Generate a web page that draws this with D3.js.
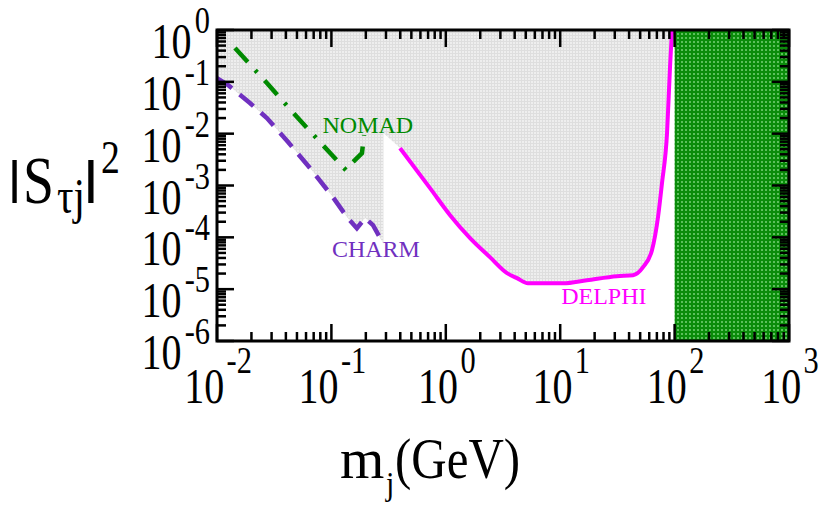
<!DOCTYPE html>
<html><head><meta charset="utf-8">
<script src="https://cdn.jsdelivr.net/npm/d3@7"></script>
<style>html,body{margin:0;padding:0;background:#fff}svg{display:block}</style>
</head><body>
<svg id="c" width="826" height="515"></svg>
<script>
// ---- data ----
const xTickExps = [-2, -1, 0, 1, 2, 3];
const yTickExps = [0, -1, -2, -3, -4, -5, -6];

const charmM = [0.01, 0.0125, 0.0194, 0.0273, 0.0418, 0.065, 0.103, 0.137, 0.167, 0.197, 0.231, 0.283];
const charmS = [0.118, 0.0867, 0.039, 0.020, 0.00689, 0.00217, 5.97e-4, 2.45e-4, 1.5e-4, 2.35e-4, 1.72e-4, 7.7e-5];

const nomadM = [0.01436, 0.0273, 0.051, 0.0993, 0.134, 0.151, 0.185, 0.193];
const nomadS = [0.45, 0.0948, 0.02, 4.04e-3, 1.98e-3, 2.7e-3, 4.22e-3, 9.4e-3];

const delphiM = [0.398, 0.728, 1.09, 1.63, 2.43, 3.43, 4.19, 5.23, 10.6, 17.1, 31.4, 43.3, 53, 63.4, 71.6, 77.6, 85.9, 91.2, 94.9];
const delphiS = [5.27e-3, 8.9e-4, 2.68e-4, 9.66e-5, 4.15e-5, 2.04e-5, 1.63e-5, 1.3e-5, 1.3e-5, 1.49e-5, 1.78e-5, 1.86e-5, 2.66e-5, 5.66e-5, 2.45e-4, 1.11e-3, 1.03e-2, 0.193, 1.0];

const grayGapM = [0.285, 0.285];        // vertical edge of the grey region
const grayGapS = [7.7e-5, 0.0103];

const greenBand = [100, 1000];

const labels = [
  {text: "NOMAD", m: 0.0836, s: 0.0103, color: "#008a00"},
  {text: "CHARM", m: 0.101, s: 4.15e-5, color: "#7030c0"},
  {text: "DELPHI", m: 10.2, s: 5.13e-6, color: "#ff00ff"}
];

// ---- chart ----
const svg = d3.select("#c");
const L = 217, R = 789, T = 30, B = 341;
const x = d3.scaleLog().domain([1e-2, 1e3]).range([L, R]);
const y = d3.scaleLog().domain([1e-6, 1]).range([B, T]);
const serif = "'Liberation Serif','Times New Roman',serif";
const sans = "'Liberation Sans',Arial,sans-serif";

const defs = svg.append("defs");
const pg = defs.append("pattern").attr("id", "pgray").attr("patternUnits", "userSpaceOnUse").attr("width", 3).attr("height", 3);
pg.append("rect").attr("width", 3).attr("height", 3).attr("fill", "#dedede");
pg.append("rect").attr("x", 0).attr("y", 0).attr("width", 2).attr("height", 2).attr("fill", "#eeeeee");
const pgr = defs.append("pattern").attr("id", "pgreen").attr("patternUnits", "userSpaceOnUse").attr("width", 4).attr("height", 4);
pgr.append("rect").attr("width", 4).attr("height", 4).attr("fill", "#0a8c0a");
pgr.append("rect").attr("x", 1).attr("y", 1).attr("width", 2).attr("height", 2).attr("fill", "#5cc05c");

// grey excluded region
const zip = (a, b) => a.map((v, i) => [v, b[i]]);
const grayPts = [[1e-2, 1]]
  .concat(zip(charmM, charmS))
  .concat(zip(grayGapM, grayGapS))
  .concat(zip(delphiM, delphiS))
  .concat([[delphiM[delphiM.length - 1], 1]]);
svg.append("path")
  .attr("d", d3.line().x(d => x(d[0])).y(d => y(d[1]))(grayPts) + "Z")
  .attr("fill", "url(#pgray)");

// green band
svg.append("rect")
  .attr("x", x(greenBand[0])).attr("y", T)
  .attr("width", x(greenBand[1]) - x(greenBand[0])).attr("height", B - T)
  .attr("fill", "url(#pgreen)");

// curves
const lin = d3.line().x(d => x(d[0])).y(d => y(d[1]));
svg.append("path").attr("d", lin(zip(charmM, charmS)))
  .attr("fill", "none").attr("stroke", "#7030c0").attr("stroke-width", 4.5)
  .attr("stroke-dasharray", "18,10");
svg.append("path").attr("d", lin(zip(nomadM, nomadS)))
  .attr("fill", "none").attr("stroke", "#008a00").attr("stroke-width", 4.5)
  .attr("stroke-dasharray", "19,11,3,11");
svg.append("path").attr("d", d3.line().curve(d3.curveMonotoneX).x(d => x(d[0])).y(d => y(d[1]))(zip(delphiM, delphiS)))
  .attr("fill", "none").attr("stroke", "#ff00ff").attr("stroke-width", 4);

// labels
labels.forEach(l => {
  svg.append("text").attr("x", x(l.m)).attr("y", y(l.s))
    .attr("font-family", serif).attr("font-size", 24).attr("fill", l.color).text(l.text);
});

// frame + ticks
const tg = svg.append("g").attr("stroke", "#000").attr("stroke-width", 2.5);
const xt = [], yt = [];
for (let e = -2; e < 3; e++) for (let k = 1; k < 10; k++) xt.push({v: k * Math.pow(10, e), major: k === 1});
xt.push({v: 1000, major: true});
for (let e = -6; e < 0; e++) for (let k = 1; k < 10; k++) yt.push({v: k * Math.pow(10, e), major: k === 1});
yt.push({v: 1, major: true});
xt.forEach(t => {
  const px = x(t.v), len = t.major ? 17 : 9;
  tg.append("line").attr("x1", px).attr("x2", px).attr("y1", B).attr("y2", B - len);
  tg.append("line").attr("x1", px).attr("x2", px).attr("y1", T).attr("y2", T + len);
});
yt.forEach(t => {
  const py = y(t.v), len = t.major ? 17 : 9;
  tg.append("line").attr("y1", py).attr("y2", py).attr("x1", L).attr("x2", L + len);
  tg.append("line").attr("y1", py).attr("y2", py).attr("x1", R).attr("x2", R - len);
});
svg.append("rect").attr("x", L).attr("y", T).attr("width", R - L).attr("height", B - T)
  .attr("fill", "none").attr("stroke", "#000").attr("stroke-width", 3);

// tick labels
function powLabel(px, py, exp, anchor, supDx, supDy) {
  const g = svg.append("g").attr("transform", `translate(${px},${py}) scale(0.8,1)`);
  const t = g.append("text").attr("x", 0).attr("y", 0).attr("text-anchor", anchor)
    .attr("font-family", serif).attr("fill", "#000");
  t.append("tspan").attr("font-size", 50).text("10");
  t.append("tspan").attr("font-size", 38).attr("dx", supDx).attr("dy", supDy).text(String(exp));
}
xTickExps.forEach(e => powLabel(x(Math.pow(10, e)) + 1, 403, e, "middle", 3, -30));
yTickExps.forEach(e => powLabel(210, y(Math.pow(10, e)) + 28, e, "end", 4, -25));

// axis titles
function txt(px, py, s, size, sx, fam) {
  svg.append("g").attr("transform", `translate(${px},${py}) scale(${sx},1)`)
    .append("text").attr("font-family", fam || serif).attr("font-size", size).attr("fill", "#000").text(s);
}
txt(8, 203, "I", 63, 0.75, sans);
txt(23, 203, "S", 68, 0.82);
txt(57, 213, "τj", 50, 0.82);
txt(83, 203, "I", 63, 0.9, sans);
txt(101, 173, "2", 46, 0.82);

txt(340, 478, "m", 57, 1.0);
txt(386, 495, "j", 33, 0.9);
txt(395, 478, "(GeV)", 57, 0.86);
</script>
</body></html>
